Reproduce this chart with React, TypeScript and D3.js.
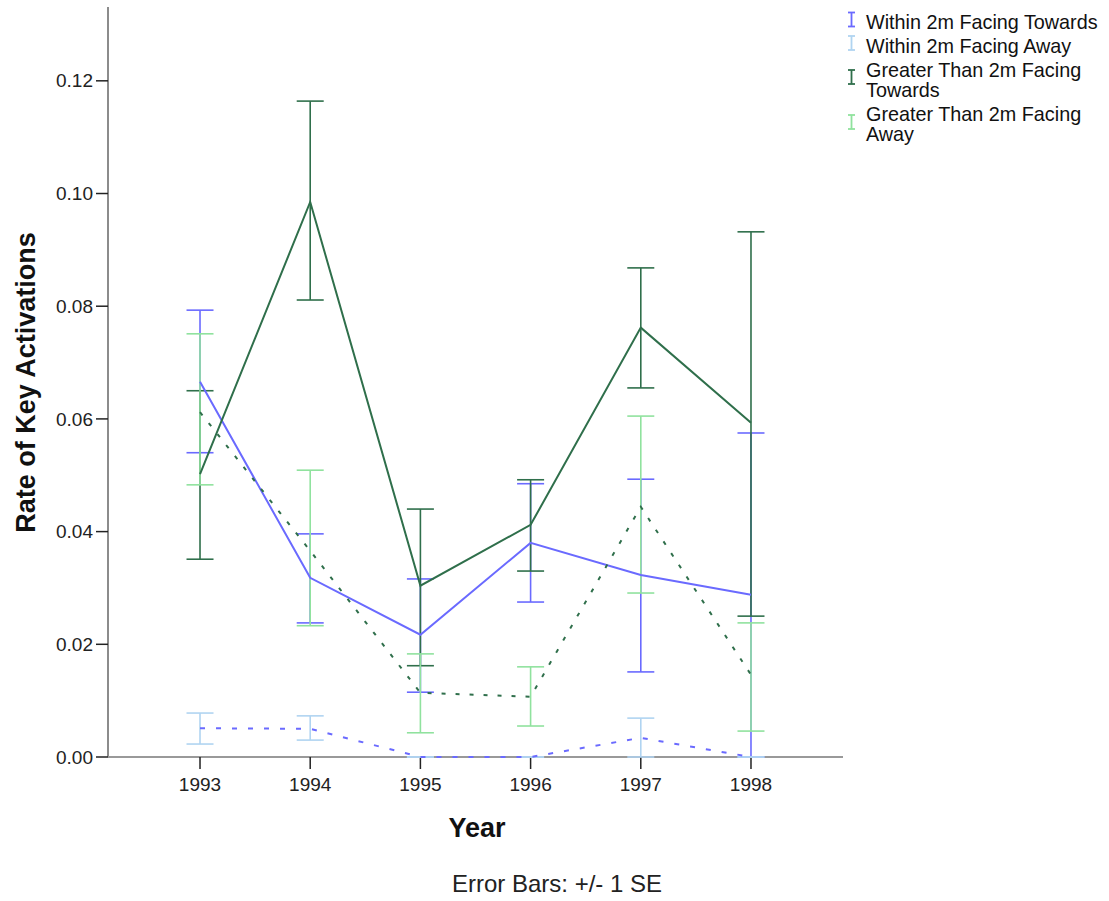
import React from 'react';
import * as d3 from 'd3';

const years = ['1993', '1994', '1995', '1996', '1997', '1998'];
const yTicks = [0, 0.02, 0.04, 0.06, 0.08, 0.1, 0.12];

// means and +/- 1 SE bounds per series
const w2TowardsMean = [0.0666, 0.0318, 0.0217, 0.038, 0.0323, 0.0288];
const w2TowardsHigh = [0.0793, 0.0396, 0.0316, 0.0485, 0.0493, 0.0575];
const w2TowardsLow = [0.054, 0.0238, 0.0115, 0.0275, 0.0151, 0.0];

const w2AwayMean = [0.0051, 0.005, 0.0, 0.0, 0.0034, 0.0];
const w2AwayHigh = [0.0078, 0.0073, 0.0, 0.0, 0.0069, 0.0];
const w2AwayLow = [0.0023, 0.003, 0.0, 0.0, 0.0, 0.0];

const g2TowardsMean = [0.0502, 0.0985, 0.0304, 0.0412, 0.0762, 0.0593];
const g2TowardsHigh = [0.065, 0.1164, 0.044, 0.0492, 0.0868, 0.0932];
const g2TowardsLow = [0.0351, 0.0811, 0.0162, 0.033, 0.0655, 0.025];

const g2AwayMean = [0.0612, 0.0366, 0.0114, 0.0107, 0.0444, 0.0146];
const g2AwayHigh = [0.0751, 0.0509, 0.0183, 0.016, 0.0605, 0.0238];
const g2AwayLow = [0.0483, 0.0233, 0.0043, 0.0055, 0.0291, 0.0046];

const series = [
  { name: ['Within 2m Facing Towards'], mean: w2TowardsMean, hi: w2TowardsHigh, lo: w2TowardsLow, bar: '#6a6aff', line: '#6a6aff', dash: null },
  { name: ['Within 2m Facing Away'], mean: w2AwayMean, hi: w2AwayHigh, lo: w2AwayLow, bar: '#b0d4f1', line: '#6a6aff', dash: '5,11' },
  { name: ['Greater Than 2m Facing', 'Towards'], mean: g2TowardsMean, hi: g2TowardsHigh, lo: g2TowardsLow, bar: '#2f6f4b', line: '#2f6f4b', dash: null },
  { name: ['Greater Than 2m Facing', 'Away'], mean: g2AwayMean, hi: g2AwayHigh, lo: g2AwayLow, bar: '#90e29e', line: '#2f6f4b', dash: '4,10' },
];

const W = 1109;
const H = 901;
const left = 108;
const right = 843;
const top = 7;
const bottom = 757;
const font = '"Liberation Sans", Arial, sans-serif';

export default function App() {
  const x = d3.scalePoint<string>().domain(years).range([left, right]).padding(0.835);
  const y = d3.scaleLinear().domain([0, 0.1331]).range([bottom, top]);
  const line = d3.line<number>().x((d, i) => x(years[i]) as number).y((d) => y(d));
  const capW = 13.5;

  return (
    <svg width={W} height={H} style={{ position: 'absolute', left: 0, top: 0 }} fontFamily={font}>
      <rect width={W} height={H} fill="#fff" />

      {/* axes */}
      <line x1={left} x2={left} y1={top} y2={bottom} stroke="#666" strokeWidth={1.5} />
      <line x1={left} x2={right} y1={bottom} y2={bottom} stroke="#999" strokeWidth={2} />
      {yTicks.map((t) => (
        <g key={t}>
          <line x1={left - 12} x2={left} y1={y(t)} y2={y(t)} stroke="#222" strokeWidth={1.5} />
          <text x={left - 15} y={y(t)} dy="0.35em" textAnchor="end" fontSize={19} fill="#222">
            {t.toFixed(2)}
          </text>
        </g>
      ))}
      {years.map((yr) => (
        <g key={yr}>
          <line x1={x(yr)} x2={x(yr)} y1={bottom} y2={bottom + 12} stroke="#222" strokeWidth={1.5} />
          <text x={x(yr)} y={791} textAnchor="middle" fontSize={19} fill="#222">
            {yr}
          </text>
        </g>
      ))}

      {/* error bars */}
      {series.map((s, si) => (
        <g key={'eb' + si} stroke={s.bar} strokeWidth={1.6}>
          {years.map((yr, i) => (
            <g key={yr}>
              <line x1={x(yr)} x2={x(yr)} y1={y(s.hi[i])} y2={y(s.lo[i])} />
              <line x1={(x(yr) as number) - capW} x2={(x(yr) as number) + capW} y1={y(s.hi[i])} y2={y(s.hi[i])} />
              <line x1={(x(yr) as number) - capW} x2={(x(yr) as number) + capW} y1={y(s.lo[i])} y2={y(s.lo[i])} />
            </g>
          ))}
        </g>
      ))}

      {/* mean lines */}
      {series.map((s, si) => (
        <path
          key={'ln' + si}
          d={line(s.mean) || ''}
          fill="none"
          stroke={s.line}
          strokeWidth={2}
          strokeDasharray={s.dash || undefined}
        />
      ))}

      {/* axis titles */}
      <text
        transform="translate(35, 382.5) rotate(-90)"
        textAnchor="middle"
        fontSize={27}
        fontWeight="bold"
        fill="#111"
      >
        Rate of Key Activations
      </text>
      <text x={477} y={837} textAnchor="middle" fontSize={27} fontWeight="bold" fill="#111">
        Year
      </text>
      <text x={557} y={892} textAnchor="middle" fontSize={24} fill="#222">
        Error Bars: +/- 1 SE
      </text>

      {/* legend */}
      {series.map((s, si) => {
        const ly = [29, 53, 77, 121][si];
        const my = [19.5, 43, 77, 122][si];
        return (
          <g key={'lg' + si}>
            <g stroke={s.bar} strokeWidth={1.8}>
              <line x1={851.5} x2={851.5} y1={my - 7} y2={my + 7} />
              <line x1={848} x2={855} y1={my - 7} y2={my - 7} />
              <line x1={848} x2={855} y1={my + 7} y2={my + 7} />
            </g>
            <text x={866} y={ly} fontSize={19.8} fill="#111">
              {s.name.map((n, ni) => (
                <tspan key={ni} x={866} dy={ni === 0 ? 0 : 20}>
                  {n}
                </tspan>
              ))}
            </text>
          </g>
        );
      })}
    </svg>
  );
}
